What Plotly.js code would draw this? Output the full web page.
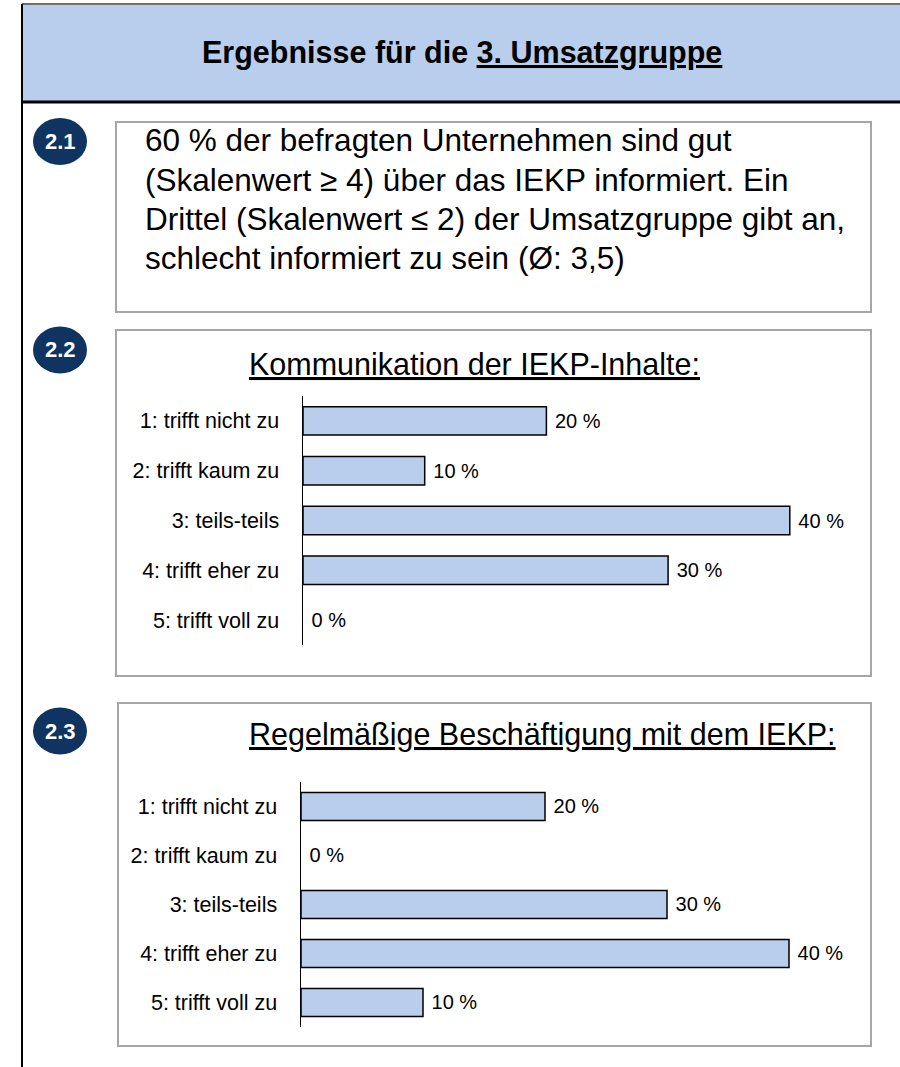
<!DOCTYPE html>
<html>
<head>
<meta charset="utf-8">
<script src="https://cdn.plot.ly/plotly-3.0.1.min.js"></script>
<style>html,body{margin:0;padding:0;background:#fff;}#chart{width:900px;height:1067px;}</style>
</head>
<body>
<div id="chart"></div>
<script>
// ---- data ----
const categories = ['1: trifft nicht zu', '2: trifft kaum zu', '3: teils-teils', '4: trifft eher zu', '5: trifft voll zu'];
const kommunikationValues = [20, 10, 40, 30, 0];
const beschaeftigungValues = [20, 0, 30, 40, 10];
const headerTitle = 'Ergebnisse für die <u>3. Umsatzgruppe</u>';
const summaryLines = [
  '60 % der befragten Unternehmen sind gut',
  '(Skalenwert ≥ 4) über das IEKP informiert. Ein',
  'Drittel (Skalenwert ≤ 2) der Umsatzgruppe gibt an,',
  'schlecht informiert zu sein (Ø: 3,5)'
];
const chartTitles = ['<u>Kommunikation der IEKP-Inhalte:</u>', '<u>Regelmäßige Beschäftigung mit dem IEKP:</u>'];
const badgeLabels = ['2.1', '2.2', '2.3'];

// ---- layout helpers ----
const W = 900, H = 1067;
const X = px => px / W;
const Y = py => 1 - py / H;
const FONT = '"Liberation Sans Narrow", "Arial Narrow", "Liberation Sans", Arial, sans-serif';
const BAR_FILL = '#B9CDEC';

function barTrace(vals, xa, ya) {
  return {
    type: 'bar', orientation: 'h',
    x: vals, y: categories,
    xaxis: xa, yaxis: ya,
    marker: {color: BAR_FILL, line: {color: '#000', width: vals.map(v => v === 0 ? 0 : 1.5)}},
    texttemplate: ' %{x} %', textposition: 'outside',
    textfont: {family: FONT, size: 20, color: '#000'},
    cliponaxis: false, hoverinfo: 'skip', showlegend: false
  };
}

const data = [
  barTrace(kommunikationValues, 'x', 'y'),
  barTrace(beschaeftigungValues, 'x2', 'y2')
];

function yAx(domain, anchor) {
  return {
    domain: domain, type: 'category', autorange: 'reversed', anchor: anchor,
    showline: true, linecolor: '#000', linewidth: 1.5,
    showgrid: false, zeroline: false, ticks: '',
    ticklabelstandoff: 18,
    tickfont: {family: FONT, size: 21.5, color: '#000'},
    fixedrange: true
  };
}
function xAx(domain, anchor) {
  return {domain: domain, range: [0, 45], visible: false, anchor: anchor, fixedrange: true};
}

const shapes = [];
// header
shapes.push({type: 'rect', xref: 'paper', yref: 'paper', x0: X(22), x1: X(905), y0: Y(102), y1: Y(4),
  fillcolor: '#B9CDEC', line: {width: 0}, layer: 'below'});
shapes.push({type: 'line', xref: 'paper', yref: 'paper', x0: X(22), x1: X(905), y0: Y(4), y1: Y(4), line: {color: '#6f6f6f', width: 2}});
shapes.push({type: 'line', xref: 'paper', yref: 'paper', x0: X(22), x1: X(905), y0: Y(102), y1: Y(102), line: {color: '#000', width: 3}});
// left vertical line
shapes.push({type: 'line', xref: 'paper', yref: 'paper', x0: X(22), x1: X(22), y0: Y(4), y1: Y(1070), line: {color: '#000', width: 2}});
// boxes
const boxes = [[116, 122, 871, 312], [116, 330, 871, 676], [118, 703, 871, 1046]];
boxes.forEach(b => shapes.push({type: 'rect', xref: 'paper', yref: 'paper', x0: X(b[0]), x1: X(b[2]), y0: Y(b[3]), y1: Y(b[1]),
  line: {color: '#A6A6A6', width: 2}, fillcolor: 'rgba(0,0,0,0)'}));
// badges
const badgeCenters = [141.5, 350, 731];
badgeCenters.forEach(cy => shapes.push({type: 'circle', xref: 'paper', yref: 'paper',
  x0: X(33), x1: X(87), y0: Y(cy + 23.5), y1: Y(cy - 23.5), fillcolor: '#0F3462', line: {width: 0}}));

const annotations = [];
annotations.push({xref: 'paper', yref: 'paper', x: X(462), y: Y(53), text: '<b>' + headerTitle + '</b>', showarrow: false,
  xanchor: 'center', yanchor: 'middle', font: {family: FONT, size: 30.5, color: '#000'}});
const lineY = [140, 180, 219, 258];
summaryLines.forEach((t, i) => annotations.push({xref: 'paper', yref: 'paper', x: X(143), y: Y(lineY[i]), text: t, showarrow: false,
  xanchor: 'left', yanchor: 'middle', font: {family: FONT, size: 31.5, color: '#000'}}));
badgeLabels.forEach((t, i) => annotations.push({xref: 'paper', yref: 'paper', x: X(60), y: Y(badgeCenters[i]), text: '<b>' + t + '</b>', showarrow: false,
  xanchor: 'center', yanchor: 'middle', font: {family: 'Liberation Sans, Arial, sans-serif', size: 22, color: '#fff'}}));
annotations.push({xref: 'paper', yref: 'paper', x: X(247), y: Y(364), text: chartTitles[0], showarrow: false,
  xanchor: 'left', yanchor: 'middle', font: {family: FONT, size: 30.5, color: '#000'}});
annotations.push({xref: 'paper', yref: 'paper', x: X(247), y: Y(734), text: chartTitles[1], showarrow: false,
  xanchor: 'left', yanchor: 'middle', font: {family: FONT, size: 30.5, color: '#000'}});

const layout = {
  width: W, height: H,
  margin: {l: 0, r: 0, t: 0, b: 0},
  paper_bgcolor: '#fff', plot_bgcolor: 'rgba(0,0,0,0)',
  bargap: 0.43,
  showlegend: false,
  xaxis: xAx([X(303), X(303 + 45 * 12.17)], 'y'),
  yaxis: yAx([Y(645), Y(396)], 'x'),
  xaxis2: xAx([X(301), X(301 + 45 * 12.2)], 'y2'),
  yaxis2: yAx([Y(1027), Y(782)], 'x2'),
  shapes: shapes,
  annotations: annotations
};

Plotly.newPlot('chart', data, layout, {staticPlot: true, displayModeBar: false});
</script>
</body>
</html>
